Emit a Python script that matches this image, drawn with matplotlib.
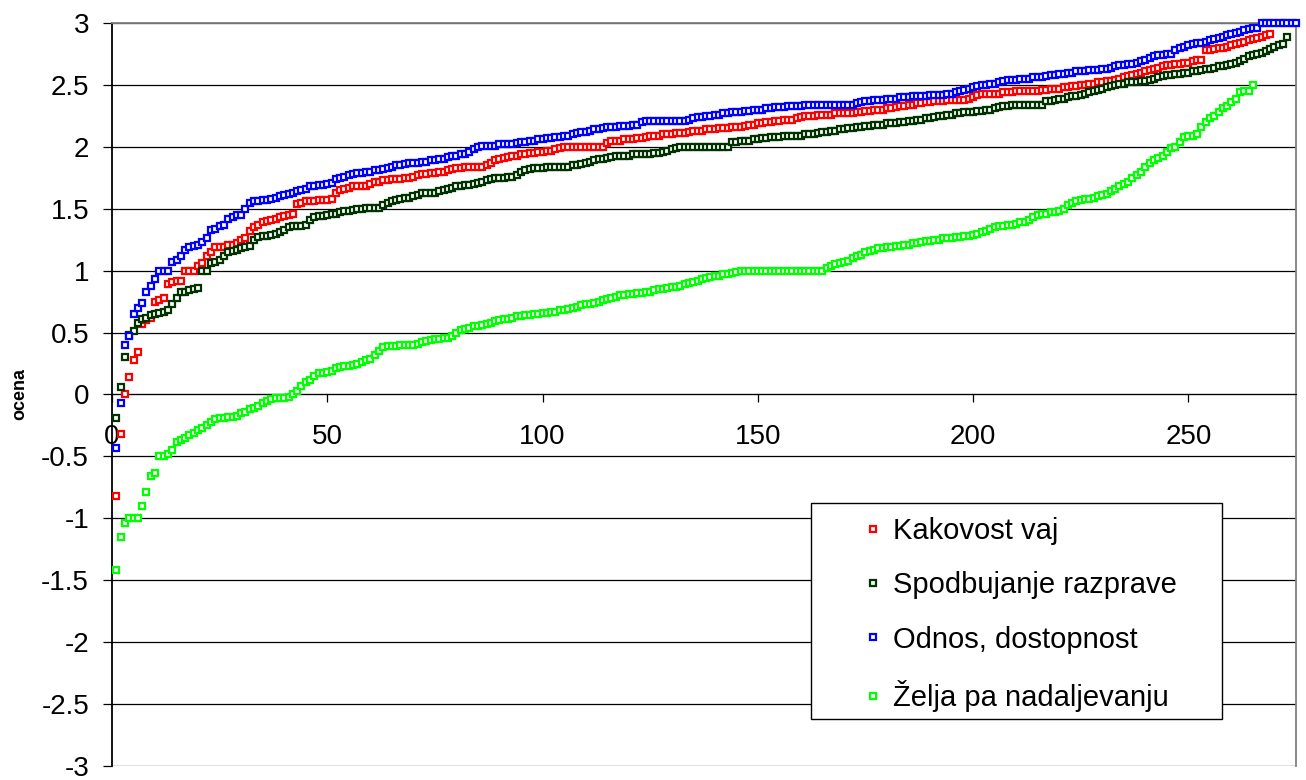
import numpy as np
import matplotlib
matplotlib.use("Agg")
import matplotlib.pyplot as plt
from matplotlib.patches import Rectangle

plt.rcParams['font.family'] = ['Liberation Sans', 'DejaVu Sans']

# urejene povprečne ocene po vprašanjih
kakovost_vaj = [
    -0.82, -0.32, 0.0, 0.14, 0.28, 0.34, 0.57, 0.6, 0.62, 0.75,
    0.76, 0.78, 0.89, 0.91, 0.92, 0.92, 1.0, 1.0, 1.0, 1.04,
    1.06, 1.12, 1.15, 1.19, 1.19, 1.19, 1.21, 1.21, 1.22, 1.25,
    1.26, 1.32, 1.35, 1.37, 1.39, 1.4, 1.41, 1.42, 1.43, 1.44,
    1.45, 1.46, 1.54, 1.55, 1.56, 1.56, 1.56, 1.57, 1.57, 1.57,
    1.58, 1.63, 1.65, 1.66, 1.67, 1.68, 1.68, 1.68, 1.68, 1.7,
    1.72, 1.72, 1.73, 1.73, 1.74, 1.74, 1.74, 1.75, 1.75, 1.76,
    1.77, 1.78, 1.78, 1.79, 1.79, 1.8, 1.8, 1.81, 1.82, 1.83,
    1.83, 1.84, 1.84, 1.84, 1.84, 1.84, 1.85, 1.87, 1.89, 1.9,
    1.91, 1.92, 1.93, 1.93, 1.94, 1.94, 1.95, 1.95, 1.96, 1.96,
    1.97, 1.97, 1.98, 1.99, 2.0, 2.0, 2.0, 2.0, 2.0, 2.0,
    2.0, 2.0, 2.0, 2.0, 2.03, 2.05, 2.05, 2.05, 2.06, 2.06,
    2.06, 2.07, 2.07, 2.08, 2.09, 2.09, 2.09, 2.1, 2.1, 2.1,
    2.11, 2.11, 2.11, 2.12, 2.13, 2.13, 2.13, 2.14, 2.14, 2.14,
    2.15, 2.15, 2.15, 2.16, 2.16, 2.16, 2.17, 2.18, 2.18, 2.19,
    2.19, 2.2, 2.2, 2.21, 2.21, 2.22, 2.22, 2.22, 2.23, 2.24,
    2.25, 2.25, 2.25, 2.26, 2.26, 2.26, 2.26, 2.27, 2.27, 2.27,
    2.27, 2.27, 2.28, 2.28, 2.29, 2.29, 2.3, 2.3, 2.3, 2.31,
    2.31, 2.32, 2.33, 2.33, 2.34, 2.34, 2.35, 2.35, 2.36, 2.36,
    2.37, 2.37, 2.37, 2.38, 2.38, 2.38, 2.38, 2.38, 2.39, 2.4,
    2.42, 2.43, 2.43, 2.43, 2.43, 2.43, 2.44, 2.44, 2.44, 2.45,
    2.45, 2.45, 2.45, 2.45, 2.45, 2.46, 2.46, 2.47, 2.47, 2.47,
    2.48, 2.48, 2.49, 2.49, 2.5, 2.5, 2.51, 2.51, 2.52, 2.52,
    2.53, 2.53, 2.54, 2.55, 2.56, 2.57, 2.58, 2.59, 2.6, 2.61,
    2.62, 2.63, 2.64, 2.65, 2.66, 2.66, 2.67, 2.67, 2.68, 2.68,
    2.69, 2.7, 2.7, 2.78, 2.78, 2.79, 2.8, 2.8, 2.81, 2.82,
    2.83, 2.84, 2.85, 2.86, 2.87, 2.88, 2.89, 2.9, 2.91,
]

spodbujanje = [
    -0.19, 0.06, 0.3, 0.48, 0.51, 0.58, 0.61, 0.62, 0.64, 0.65,
    0.66, 0.67, 0.68, 0.73, 0.78, 0.83, 0.83, 0.84, 0.85, 0.86,
    1.0, 1.0, 1.06, 1.07, 1.09, 1.12, 1.15, 1.16, 1.17, 1.18,
    1.19, 1.2, 1.25, 1.27, 1.28, 1.28, 1.29, 1.3, 1.31, 1.33,
    1.35, 1.36, 1.36, 1.36, 1.37, 1.41, 1.43, 1.44, 1.44, 1.45,
    1.46, 1.46, 1.47, 1.48, 1.48, 1.49, 1.5, 1.5, 1.51, 1.51,
    1.51, 1.51, 1.53, 1.55, 1.56, 1.57, 1.58, 1.59, 1.59, 1.6,
    1.61, 1.63, 1.63, 1.63, 1.63, 1.64, 1.65, 1.66, 1.67, 1.68,
    1.68, 1.69, 1.69, 1.7, 1.71, 1.72, 1.73, 1.74, 1.75, 1.75,
    1.75, 1.76, 1.76, 1.77, 1.8, 1.81, 1.82, 1.83, 1.83, 1.83,
    1.84, 1.84, 1.84, 1.84, 1.84, 1.84, 1.85, 1.85, 1.86, 1.87,
    1.88, 1.89, 1.9, 1.9, 1.91, 1.92, 1.93, 1.93, 1.93, 1.93,
    1.94, 1.94, 1.94, 1.94, 1.94, 1.95, 1.95, 1.96, 1.97, 1.98,
    1.99, 2.0, 2.0, 2.0, 2.0, 2.0, 2.0, 2.0, 2.0, 2.0,
    2.0, 2.0, 2.0, 2.04, 2.04, 2.05, 2.05, 2.05, 2.06, 2.06,
    2.07, 2.07, 2.08, 2.08, 2.08, 2.09, 2.09, 2.09, 2.09, 2.09,
    2.1, 2.1, 2.1, 2.11, 2.12, 2.12, 2.13, 2.13, 2.14, 2.14,
    2.15, 2.15, 2.16, 2.16, 2.17, 2.17, 2.18, 2.18, 2.18, 2.19,
    2.19, 2.19, 2.2, 2.2, 2.21, 2.21, 2.22, 2.22, 2.23, 2.23,
    2.24, 2.25, 2.25, 2.26, 2.26, 2.27, 2.27, 2.28, 2.28, 2.28,
    2.29, 2.29, 2.3, 2.3, 2.31, 2.32, 2.33, 2.33, 2.34, 2.34,
    2.34, 2.34, 2.34, 2.34, 2.34, 2.34, 2.37, 2.37, 2.38, 2.39,
    2.39, 2.4, 2.41, 2.41, 2.42, 2.43, 2.44, 2.45, 2.46, 2.47,
    2.48, 2.49, 2.5, 2.51, 2.51, 2.52, 2.52, 2.52, 2.53, 2.53,
    2.54, 2.55, 2.56, 2.57, 2.58, 2.58, 2.59, 2.59, 2.6, 2.6,
    2.61, 2.61, 2.62, 2.63, 2.63, 2.64, 2.65, 2.65, 2.66, 2.67,
    2.68, 2.69, 2.71, 2.73, 2.74, 2.75, 2.76, 2.77, 2.79, 2.81,
    2.82, 2.83, 2.89,
]

odnos = [
    -0.43, -0.07, 0.4, 0.47, 0.65, 0.7, 0.74, 0.83, 0.88, 0.93,
    1.0, 1.0, 1.0, 1.07, 1.09, 1.12, 1.17, 1.19, 1.2, 1.21,
    1.23, 1.26, 1.33, 1.34, 1.36, 1.37, 1.42, 1.43, 1.45, 1.45,
    1.5, 1.55, 1.56, 1.56, 1.57, 1.57, 1.58, 1.59, 1.6, 1.61,
    1.62, 1.63, 1.64, 1.65, 1.66, 1.68, 1.68, 1.69, 1.69, 1.7,
    1.71, 1.74, 1.75, 1.76, 1.77, 1.78, 1.79, 1.79, 1.8, 1.8,
    1.81, 1.81, 1.82, 1.83, 1.84, 1.85, 1.85, 1.86, 1.87, 1.87,
    1.87, 1.88, 1.88, 1.89, 1.89, 1.9, 1.9, 1.92, 1.93, 1.93,
    1.94, 1.94, 1.96, 1.98, 2.0, 2.01, 2.01, 2.01, 2.01, 2.02,
    2.02, 2.02, 2.02, 2.03, 2.04, 2.04, 2.05, 2.05, 2.06, 2.06,
    2.07, 2.07, 2.08, 2.08, 2.09, 2.09, 2.1, 2.11, 2.12, 2.12,
    2.13, 2.14, 2.14, 2.15, 2.16, 2.16, 2.16, 2.17, 2.17, 2.17,
    2.18, 2.18, 2.2, 2.21, 2.21, 2.21, 2.21, 2.21, 2.21, 2.21,
    2.21, 2.21, 2.21, 2.22, 2.23, 2.24, 2.24, 2.25, 2.25, 2.26,
    2.26, 2.27, 2.27, 2.28, 2.28, 2.28, 2.29, 2.29, 2.3, 2.3,
    2.3, 2.31, 2.31, 2.32, 2.32, 2.32, 2.33, 2.33, 2.33, 2.33,
    2.34, 2.34, 2.34, 2.34, 2.34, 2.34, 2.34, 2.34, 2.34, 2.34,
    2.34, 2.34, 2.35, 2.36, 2.37, 2.37, 2.38, 2.38, 2.38, 2.39,
    2.39, 2.39, 2.4, 2.4, 2.4, 2.41, 2.41, 2.41, 2.41, 2.42,
    2.42, 2.42, 2.42, 2.43, 2.43, 2.44, 2.45, 2.46, 2.47, 2.48,
    2.49, 2.5, 2.5, 2.51, 2.51, 2.52, 2.53, 2.54, 2.54, 2.54,
    2.55, 2.55, 2.55, 2.56, 2.56, 2.56, 2.57, 2.58, 2.58, 2.59,
    2.59, 2.6, 2.6, 2.61, 2.61, 2.61, 2.62, 2.62, 2.62, 2.63,
    2.63, 2.64, 2.65, 2.66, 2.66, 2.67, 2.67, 2.68, 2.69, 2.7,
    2.72, 2.73, 2.74, 2.74, 2.75, 2.75, 2.78, 2.8, 2.81, 2.82,
    2.83, 2.84, 2.84, 2.85, 2.86, 2.87, 2.88, 2.89, 2.9, 2.91,
    2.92, 2.93, 2.94, 2.95, 2.96, 2.96, 3.0, 3.0, 3.0, 3.0,
    3.0, 3.0, 3.0, 3.0, 3.0,
]

zelja = [
    -1.42, -1.15, -1.04, -1.0, -1.0, -1.0, -0.9, -0.79, -0.66, -0.63,
    -0.5, -0.5, -0.48, -0.45, -0.38, -0.37, -0.35, -0.33, -0.31, -0.29,
    -0.27, -0.25, -0.22, -0.2, -0.19, -0.19, -0.18, -0.18, -0.17, -0.15,
    -0.14, -0.12, -0.11, -0.09, -0.07, -0.05, -0.04, -0.03, -0.03, -0.03,
    -0.02, 0.0, 0.03, 0.07, 0.1, 0.12, 0.15, 0.17, 0.17, 0.18,
    0.19, 0.21, 0.22, 0.23, 0.23, 0.24, 0.25, 0.26, 0.28, 0.29,
    0.32, 0.35, 0.38, 0.39, 0.39, 0.39, 0.4, 0.4, 0.4, 0.4,
    0.41, 0.42, 0.43, 0.44, 0.45, 0.45, 0.46, 0.46, 0.47, 0.5,
    0.52, 0.53, 0.54, 0.55, 0.55, 0.56, 0.57, 0.58, 0.59, 0.6,
    0.61, 0.61, 0.62, 0.63, 0.63, 0.64, 0.64, 0.65, 0.65, 0.66,
    0.66, 0.67, 0.67, 0.68, 0.68, 0.69, 0.7, 0.71, 0.72, 0.73,
    0.73, 0.74, 0.75, 0.76, 0.77, 0.78, 0.79, 0.8, 0.8, 0.81,
    0.81, 0.82, 0.82, 0.83, 0.83, 0.84, 0.85, 0.85, 0.86, 0.87,
    0.87, 0.88, 0.89, 0.9, 0.91, 0.92, 0.93, 0.94, 0.95, 0.96,
    0.96, 0.97, 0.97, 0.98, 0.99, 1.0, 1.0, 1.0, 1.0, 1.0,
    1.0, 1.0, 1.0, 1.0, 1.0, 1.0, 1.0, 1.0, 1.0, 1.0,
    1.0, 1.0, 1.0, 1.0, 1.0, 1.02, 1.04, 1.05, 1.06, 1.07,
    1.08, 1.1, 1.12, 1.13, 1.15, 1.16, 1.17, 1.18, 1.18, 1.19,
    1.19, 1.2, 1.2, 1.21, 1.21, 1.22, 1.22, 1.23, 1.24, 1.24,
    1.25, 1.25, 1.26, 1.26, 1.26, 1.27, 1.27, 1.28, 1.28, 1.29,
    1.3, 1.31, 1.32, 1.34, 1.35, 1.36, 1.36, 1.37, 1.37, 1.38,
    1.39, 1.39, 1.41, 1.43, 1.45, 1.46, 1.46, 1.47, 1.47, 1.48,
    1.5, 1.53, 1.55, 1.56, 1.57, 1.58, 1.58, 1.59, 1.6, 1.61,
    1.62, 1.64, 1.66, 1.68, 1.7, 1.72, 1.75, 1.77, 1.8, 1.84,
    1.87, 1.89, 1.91, 1.93, 1.96, 1.99, 2.0, 2.04, 2.08, 2.09,
    2.09, 2.1, 2.16, 2.2, 2.23, 2.25, 2.28, 2.31, 2.33, 2.36,
    2.39, 2.44, 2.45, 2.45, 2.5,
]

series = [
    ("Kakovost vaj", kakovost_vaj, "#ff0000"),
    ("Spodbujanje razprave", spodbujanje, "#003300"),
    ("Odnos, dostopnost", odnos, "#0000ff"),
    ("Želja pa nadaljevanju", zelja, "#00ff00"),
]

fig = plt.figure(figsize=(13.06, 7.80), dpi=100)
ax = fig.add_axes([112 / 1306, 1 - 766 / 780, 1184 / 1306, 743 / 780])

handles = []
for name, vals, col in series:
    x = np.arange(1, len(vals) + 1)
    h, = ax.plot(x, vals, linestyle="none", marker="s", markersize=4.0,
                 markerfacecolor="white", markeredgecolor=col,
                 markeredgewidth=1.6, label=name, clip_on=False, zorder=3)
    handles.append(h)

ax.set_xlim(0, 275)
ax.set_ylim(-3, 3)
ax.set_yticks(np.arange(-3, 3.01, 0.5))
ax.set_yticklabels(["-3", "-2.5", "-2", "-1.5", "-1", "-0.5", "0",
                    "0.5", "1", "1.5", "2", "2.5", "3"])
ax.set_xticks(np.arange(0, 251, 50))
ax.yaxis.grid(True, color="black", linewidth=0.9)
ax.set_axisbelow(True)

ax.spines["bottom"].set_position(("data", 0))
ax.spines["bottom"].set_color("black")
ax.spines["left"].set_color("black")
ax.spines["left"].set_linewidth(1.3)
ax.spines["top"].set_color("#808080")
ax.spines["right"].set_color("#808080")
ax.spines["top"].set_linewidth(1.3)
ax.spines["right"].set_linewidth(1.3)

ax.tick_params(axis="y", direction="out", length=6.5, width=0.9,
               pad=10, labelsize=20, colors="black")
ax.tick_params(axis="x", direction="out", length=6, width=0.9,
               pad=15, labelsize=20)

ax.set_ylabel("ocena", fontsize=13, fontweight="bold")
ax.yaxis.set_label_coords(-0.071, 0.5)

# okvir legende
fig.add_artist(Rectangle((811 / 1306, 1 - 719 / 780), 411 / 1306, 216 / 780,
                         transform=fig.transFigure, facecolor="white",
                         edgecolor="black", linewidth=1.0, zorder=2))
fig.legend(handles=handles, loc="upper left",
           bbox_to_anchor=(858 / 1306, 1 - 517 / 780),
           bbox_transform=fig.transFigure, frameon=False, borderpad=0,
           borderaxespad=0, fontsize=21, handlelength=1.0,
           handletextpad=0.2, labelspacing=0.9)

fig.savefig("out.png", dpi=100)
